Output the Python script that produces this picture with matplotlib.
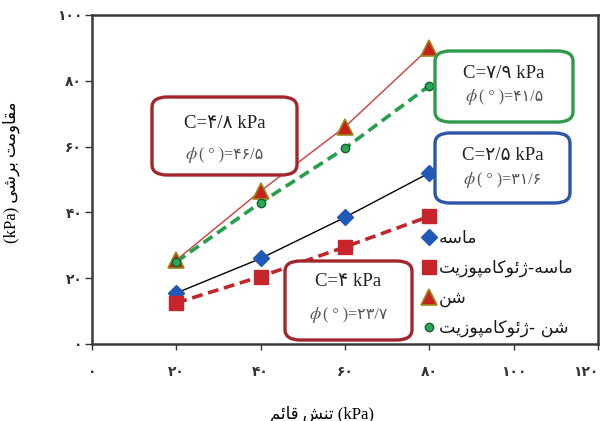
import matplotlib
matplotlib.use("Agg")
import matplotlib.pyplot as plt
from matplotlib import font_manager, ft2font
from matplotlib.patches import FancyBboxPatch
from matplotlib.offsetbox import TextArea, HPacker, AnnotationBbox

# data
normal_stress = [20, 40, 60, 80]
sand = [15.5, 26, 38.5, 52]
sand_geo = [12.5, 20.5, 29.5, 38.8]
gravel = [25.5, 46.5, 66, 90]
gravel_geo = [25, 43, 59.5, 78.5]

x_ticks = [0, 20, 40, 60, 80, 100, 120]
y_ticks = [0, 20, 40, 60, 80, 100]

legend_names = ['ماسه', 'ماسه-ژئوکامپوزیت', 'شن', 'شن -ژئوکامپوزیت']
cohesion = ['4/8', '7/9', '2/5', '4']
friction = ['46/5', '41/5', '31/6', '23/7']

# --- crude persian shaping (matplotlib 3.10 has no text shaping) ---
# isolated, final, initial, medial
FORMS = {
    'ا': (0xFE8D, 0xFE8E, None, None),
    'ب': (0xFE8F, 0xFE90, 0xFE91, 0xFE92),
    'ت': (0xFE95, 0xFE96, 0xFE97, 0xFE98),
    'ر': (0xFEAD, 0xFEAE, None, None),
    'ز': (0xFEAF, 0xFEB0, None, None),
    'س': (0xFEB1, 0xFEB2, 0xFEB3, 0xFEB4),
    'ش': (0xFEB5, 0xFEB6, 0xFEB7, 0xFEB8),
    'ق': (0xFED5, 0xFED6, 0xFED7, 0xFED8),
    'م': (0xFEE1, 0xFEE2, 0xFEE3, 0xFEE4),
    'ن': (0xFEE5, 0xFEE6, 0xFEE7, 0xFEE8),
    'ه': (0xFEE9, 0xFEEA, 0xFEEB, 0xFEEC),
    'و': (0xFEED, 0xFEEE, None, None),
    'ئ': (0xFE89, 0xFE8A, 0xFE8B, 0xFE8C),
    'ژ': (0xFB8A, 0xFB8B, None, None),
    'پ': (0xFB56, 0xFB57, 0xFB58, 0xFB59),
    'ک': (0xFB8E, 0xFB8F, 0xFB90, 0xFB91),
    'ی': (0xFBFC, 0xFBFD, 0xFBFE, 0xFBFF),
}
_dv = ft2font.FT2Font(font_manager.findfont('DejaVu Sans'))


def fa(text):
    out = []
    for i, ch in enumerate(text):
        if ch not in FORMS:
            out.append(ch)
            continue
        prev = text[i - 1] if i > 0 else ''
        nxt = text[i + 1] if i + 1 < len(text) else ''
        iso, fin, ini, med = FORMS[ch]
        jp = prev in FORMS and FORMS[prev][2] is not None
        jn = nxt in FORMS and ini is not None
        if jp and jn:
            cp = med
        elif jp:
            cp = fin
        elif jn:
            cp = ini
        else:
            cp = iso
        out.append(chr(cp) if _dv.get_char_index(cp) else ch)
    return ''.join(reversed(out))


def pdig(s):
    return ''.join(chr(0x06F0 + int(c)) if c.isdigit() else c for c in str(s))


plt.rcParams['mathtext.fontset'] = 'stix'
serif = ['Liberation Serif', 'DejaVu Sans']
fafont = ['DejaVu Sans']

fig = plt.figure(figsize=(6.05, 4.21), dpi=100)
ax = fig.add_axes([92 / 605, 1 - 344 / 421, 506 / 605, 329 / 421])

# fitted lines
ax.plot(normal_stress, sand, color='black', lw=1.0, zorder=2)
ax.plot(normal_stress, sand_geo, color='#c0262c', lw=2.6, ls=(0, (3, 1.6)), zorder=2)
ax.plot(normal_stress, gravel, color='#d23b3b', lw=1.0, zorder=2)
ax.plot(normal_stress, gravel_geo, color='#23a04a', lw=2.6, ls=(0, (3, 1.6)), zorder=2)

# markers
ax.plot(normal_stress, sand, ls='none', marker='D', ms=8, color='#2058b8',
        mec='#2058b8', label=fa(legend_names[0]), zorder=4)
ax.plot(normal_stress, sand_geo, ls='none', marker='s', ms=10, color='#c8242c',
        mec='#c8242c', label=fa(legend_names[1]), zorder=4)
ax.plot(normal_stress, gravel, ls='none', marker='^', ms=11, color='#c8201c',
        mec='#9a8a1a', mew=1.2, label=fa(legend_names[2]), zorder=4)
ax.plot(normal_stress, gravel_geo, ls='none', marker='o', ms=6, color='#2aa858',
        mec='#166030', mew=1.0, label=fa(legend_names[3]), zorder=4)

ax.set_xlim(0, 120)
ax.set_ylim(0, 100)
ax.set_xticks(x_ticks)
ax.set_yticks(y_ticks)
ax.set_xticklabels([pdig(t) for t in x_ticks], family=fafont, fontsize=10, fontweight='bold')
ax.set_yticklabels([pdig(t) for t in y_ticks], family=fafont, fontsize=10, fontweight='bold')
ax.get_xticklabels()[-1].set_horizontalalignment('right')
ax.get_xticklabels()[-1].set_x(122)
ax.tick_params(axis='x', direction='out', length=4, width=1, pad=11, colors='#333333')
ax.tick_params(axis='y', direction='out', length=5, width=1, pad=2, colors='#333333')
for sp in ax.spines.values():
    sp.set_linewidth(1.8)
    sp.set_color('#3a3a3a')

ax.set_xlabel(fa('تنش قائم') + ' (kPa)', family=serif, fontsize=12)
ax.xaxis.set_label_coords((322 - 92) / 506, (344 - 405) / 329)
ax.set_ylabel('(kPa) ' + fa('مقاومت برشی'), family=serif, fontsize=12)
ax.yaxis.set_label_coords((20 - 92) / 506, (344 - 172) / 329)

leg = ax.legend(loc='upper left', bbox_to_anchor=((420 - 92) / 506, (344 - 229) / 329),
                frameon=False, prop={'family': fafont, 'size': 12.5},
                handletextpad=0.1, handlelength=1.0, labelspacing=0.68,
                borderpad=0, borderaxespad=0)
for t in leg.get_texts():
    t.set_color('#1a1a1a')

# annotation boxes with cohesion and friction angle (pixel boxes)
boxes = [
    ((152, 97, 297, 175), '#a3262c', (123, 155)),
    ((435, 51, 573, 122), '#2e9a4a', (73, 97)),
    ((435, 133, 570, 203), '#2b55a6', (155, 180)),
    ((285, 261, 412, 340), '#a3262c', (282, 315)),
]
for ((x0, y0, x1, y1), col, (ty1, ty2)), c, phi in zip(boxes, cohesion, friction):
    fx0, fx1 = x0 / 605, x1 / 605
    fy0, fy1 = 1 - y1 / 421, 1 - y0 / 421
    patch = FancyBboxPatch((fx0, fy0), fx1 - fx0, fy1 - fy0,
                           boxstyle='round,pad=0,rounding_size=0.025',
                           transform=fig.transFigure, facecolor='white',
                           edgecolor=col, lw=2.4, zorder=5)
    fig.add_artist(patch)
    cx = (fx0 + fx1) / 2
    fig.text(cx, 1 - ty1 / 421, 'C=' + pdig(c) + ' kPa', ha='center', va='center',
             family=serif, fontsize=13.5, color='#222222', zorder=6)
    # phi is math italic, the digits need DejaVu, so pack two text pieces
    row = HPacker(children=[
        TextArea(r'$\phi$', textprops=dict(fontsize=13, color='#555555')),
        TextArea('( ° )=' + pdig(phi), textprops=dict(family=serif, fontsize=11.5,
                                                      color='#555555')),
    ], pad=0, sep=1, align='center')
    ab = AnnotationBbox(row, (cx, 1 - ty2 / 421), xycoords='figure fraction',
                        frameon=False, box_alignment=(0.5, 0.5), pad=0, zorder=6)
    fig.add_artist(ab)

fig.savefig('out.png', dpi=100)
